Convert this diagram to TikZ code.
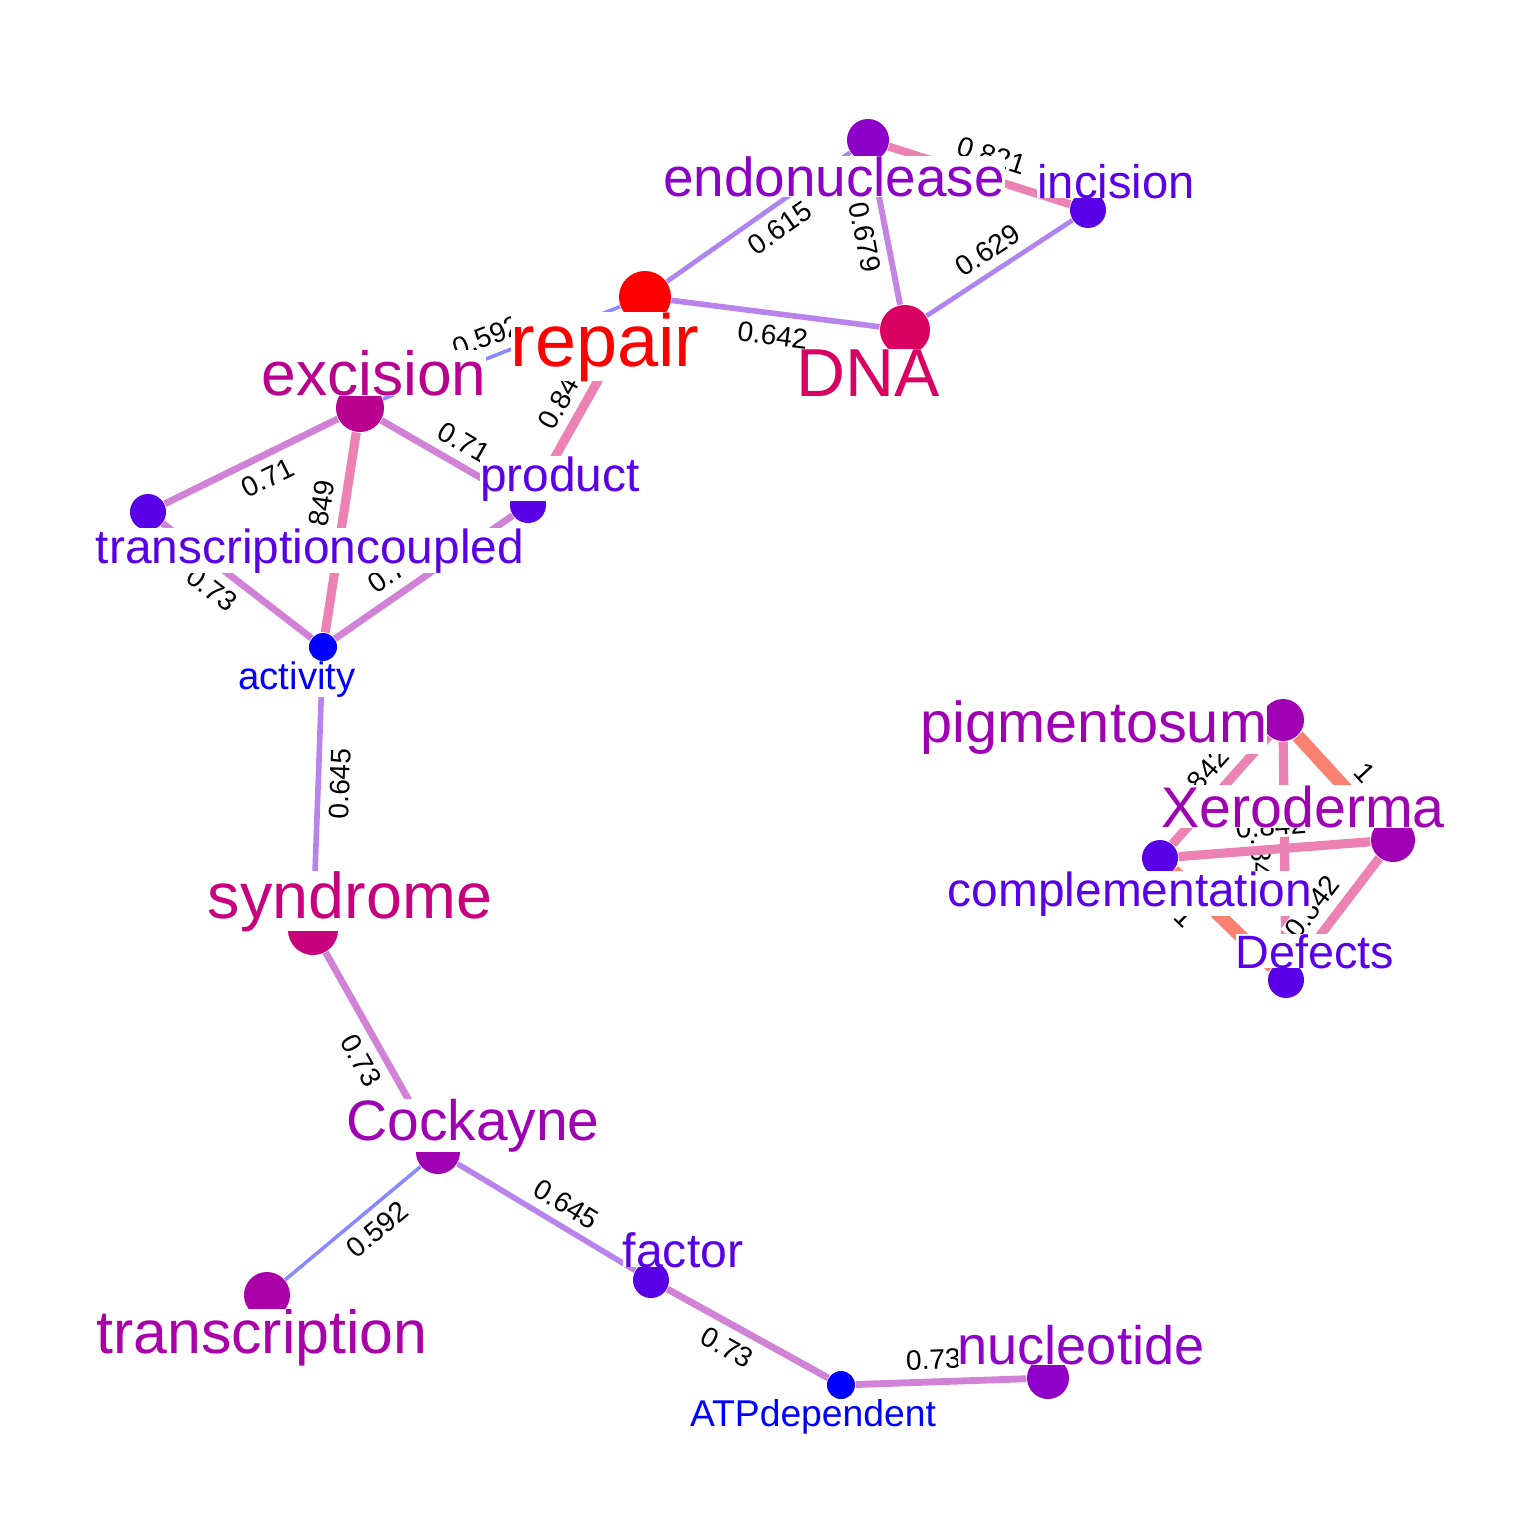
\documentclass[tikz,border=0pt]{standalone}
\usepackage{fontspec}
\setmainfont{Liberation Sans}

\definecolor{cRed}{HTML}{FF0000}
\definecolor{cDna}{HTML}{D90062}
\definecolor{cExc}{HTML}{B9008F}
\definecolor{cSyn}{HTML}{C8007D}
\definecolor{cEnd}{HTML}{8C00C8}
\definecolor{cMag}{HTML}{A000B4}
\definecolor{cTra}{HTML}{AA00AA}
\definecolor{cNuc}{HTML}{9000C8}
\definecolor{cLow}{HTML}{5A00E8}
\definecolor{cBlue}{HTML}{0000FF}
\definecolor{eOne}{HTML}{FA8072}
\definecolor{eHi}{HTML}{EC82B4}
\definecolor{eMid}{HTML}{D282D6}
\definecolor{eSix}{HTML}{C684E2}
\definecolor{eSf}{HTML}{B884EC}
\definecolor{eSl}{HTML}{B084F0}
\definecolor{eLow}{HTML}{8888FF}

\begin{document}
\begin{tikzpicture}[x=0.01cm, y=-0.01cm,
    vx/.style={circle, inner sep=0pt},
    lab/.style={inner sep=0pt, anchor=base, fill=white},
    elab/.style={font=\fontsize{8}{8}\selectfont, inner sep=0.5pt, fill=white, sloped},
    wone/.style={draw=eOne, line width=3.8pt},
    whi/.style={draw=eHi, line width=2.6pt},
    weight82/.style={draw=eHi, line width=2.3pt},
    wmid/.style={draw=eMid, line width=1.95pt},
    wsix/.style={draw=eSix, line width=1.7pt},
    wsf/.style={draw=eSf, line width=1.6pt},
    wsl/.style={draw=eSl, line width=1.35pt},
    wlow/.style={draw=eLow, line width=1pt}]

    \useasboundingbox (0,0) rectangle (1536,1536);

    \node[vx, fill=cRed, minimum size=5.2mm] (rp) at (645,297) {};
    \node[vx, fill=cEnd, minimum size=4.2mm] (en) at (868,140) {};
    \node[vx, fill=cLow, minimum size=3.6mm] (inc) at (1088,210) {};
    \node[vx, fill=cDna, minimum size=5mm] (dna) at (905,330) {};
    \node[vx, fill=cExc, minimum size=4.8mm] (ex) at (360,408) {};
    \node[vx, fill=cLow, minimum size=3.6mm] (tc) at (148,512) {};
    \node[vx, fill=cLow, minimum size=3.6mm] (pr) at (528,505) {};
    \node[vx, fill=cBlue, minimum size=2.8mm] (ac) at (323,647) {};
    \node[vx, fill=cSyn, minimum size=5mm] (sy) at (313,930) {};
    \node[vx, fill=cMag, minimum size=4.4mm] (ck) at (438,1152) {};
    \node[vx, fill=cTra, minimum size=4.6mm] (tr) at (267,1295) {};
    \node[vx, fill=cLow, minimum size=3.6mm] (fa) at (651,1280) {};
    \node[vx, fill=cBlue, minimum size=2.8mm] (atp) at (841,1385) {};
    \node[vx, fill=cNuc, minimum size=4.2mm] (nu) at (1048,1378) {};
    \node[vx, fill=cMag, minimum size=4.2mm] (pig) at (1283,720) {};
    \node[vx, fill=cMag, minimum size=4.4mm] (xer) at (1393,840) {};
    \node[vx, fill=cLow, minimum size=3.6mm] (comp) at (1160,858) {};
    \node[vx, fill=cLow, minimum size=3.6mm] (def) at (1286,980) {};

    \draw[wsl] (rp) -- node[elab, pos=.55, below=2pt] {0.615} (en);
    \draw[wsf] (rp) -- node[elab, pos=.5, below=2pt] {0.642} (dna);
    \draw[wlow] (rp) -- node[elab, pos=.53, above=2pt] {0.592} (ex);
    \draw[whi] (rp) -- node[elab, pos=.52, above=2pt] {0.849} (pr);
    \draw[weight82] (en) -- node[elab, pos=.53, above=2pt] {0.821} (inc);
    \draw[wsix] (en) -- node[elab, pos=.5, below=2pt] {0.679} (dna);
    \draw[wsl] (dna) -- node[elab, pos=.5, above=2pt] {0.629} (inc);
    \draw[wmid] (tc) -- node[elab, pos=.54, below=2pt] {0.71} (ex);
    \draw[wmid] (ex) -- node[elab, pos=.55, above=2pt] {0.71} (pr);
    \draw[whi] (ex) -- node[elab, pos=.43, above=2pt] {0.849} (ac);
    \draw[wmid] (tc) -- node[elab, pos=.42, below=2pt] {0.73} (ac);
    \draw[wmid] (ac) -- node[elab, pos=.4, above=2pt] {0.73} (pr);
    \draw[wsf] (ac) -- node[elab, pos=.5, below=2pt] {0.645} (sy);
    \draw[wmid] (sy) -- node[elab, pos=.54, below=2pt] {0.73} (ck);
    \draw[wlow] (tr) -- node[elab, pos=.58, below=2pt] {0.592} (ck);
    \draw[wsf] (ck) -- node[elab, pos=.55, above=2pt] {0.645} (fa);
    \draw[wmid] (fa) -- node[elab, pos=.44, below=2pt] {0.73} (atp);
    \draw[wmid] (atp) -- node[elab, pos=.46, above=2pt] {0.73} (nu);
    \draw[wone] (pig) -- node[elab, pos=.61, above=2pt] {1} (xer);
    \draw[whi] (comp) -- node[elab, pos=.47, above=2pt] {0.842} (pig);
    \draw[whi] (pig) -- node[elab, pos=.53, below=2pt] {0.842} (def);
    \draw[whi] (comp) -- node[elab, pos=.49, above=2pt] {0.842} (xer);
    \draw[wone] (comp) -- node[elab, pos=.29, below=2pt] {1} (def);
    \draw[whi] (def) -- node[elab, pos=.41, above=2pt] {0.842} (xer);

    \node[lab, text=cRed, font=\fontsize{21}{21}\selectfont] (rp-l) at (605,366) {repair};
    \node[lab, text=cEnd, font=\fontsize{15.6}{16}\selectfont] (en-l) at (834,196) {endonuclease};
    \node[lab, text=cLow, font=\fontsize{13.4}{14}\selectfont] (inc-l) at (1116,198) {incision};
    \node[lab, text=cDna, font=\fontsize{19.3}{20}\selectfont] (dna-l) at (868,396) {DNA};
    \node[lab, text=cExc, font=\fontsize{17.7}{18}\selectfont] (ex-l) at (374,395) {excision};
    \node[lab, text=cLow, font=\fontsize{13.6}{14}\selectfont] (tc-l) at (310,563) {transcriptioncoupled};
    \node[lab, text=cLow, font=\fontsize{13.6}{14}\selectfont] (pr-l) at (560,491) {product};
    \node[lab, text=cBlue, font=\fontsize{10.9}{11}\selectfont] (ac-l) at (297,689) {activity};
    \node[lab, text=cSyn, font=\fontsize{18.4}{19}\selectfont] (sy-l) at (350,918) {syndrome};
    \node[lab, text=cMag, font=\fontsize{16.2}{17}\selectfont] (ck-l) at (473,1140) {Cockayne};
    \node[lab, text=cTra, font=\fontsize{17.3}{18}\selectfont] (tr-l) at (262,1353) {transcription};
    \node[lab, text=cLow, font=\fontsize{13.7}{14}\selectfont] (fa-l) at (683,1267) {factor};
    \node[lab, text=cBlue, font=\fontsize{10.6}{11}\selectfont] (atp-l) at (813,1426) {ATPdependent};
    \node[lab, text=cNuc, font=\fontsize{15.4}{16}\selectfont] (nu-l) at (1081,1364) {nucleotide};
    \node[lab, text=cMag, font=\fontsize{16.4}{17}\selectfont] (pig-l) at (1094,742) {pigmentosum};
    \node[lab, text=cMag, font=\fontsize{16.3}{17}\selectfont] (xer-l) at (1303,827) {Xeroderma};
    \node[lab, text=cLow, font=\fontsize{13.6}{14}\selectfont] (comp-l) at (1130,906) {complementation};
    \node[lab, text=cLow, font=\fontsize{13.3}{14}\selectfont] (def-l) at (1315,968) {Defects};

\end{tikzpicture}
\end{document}
